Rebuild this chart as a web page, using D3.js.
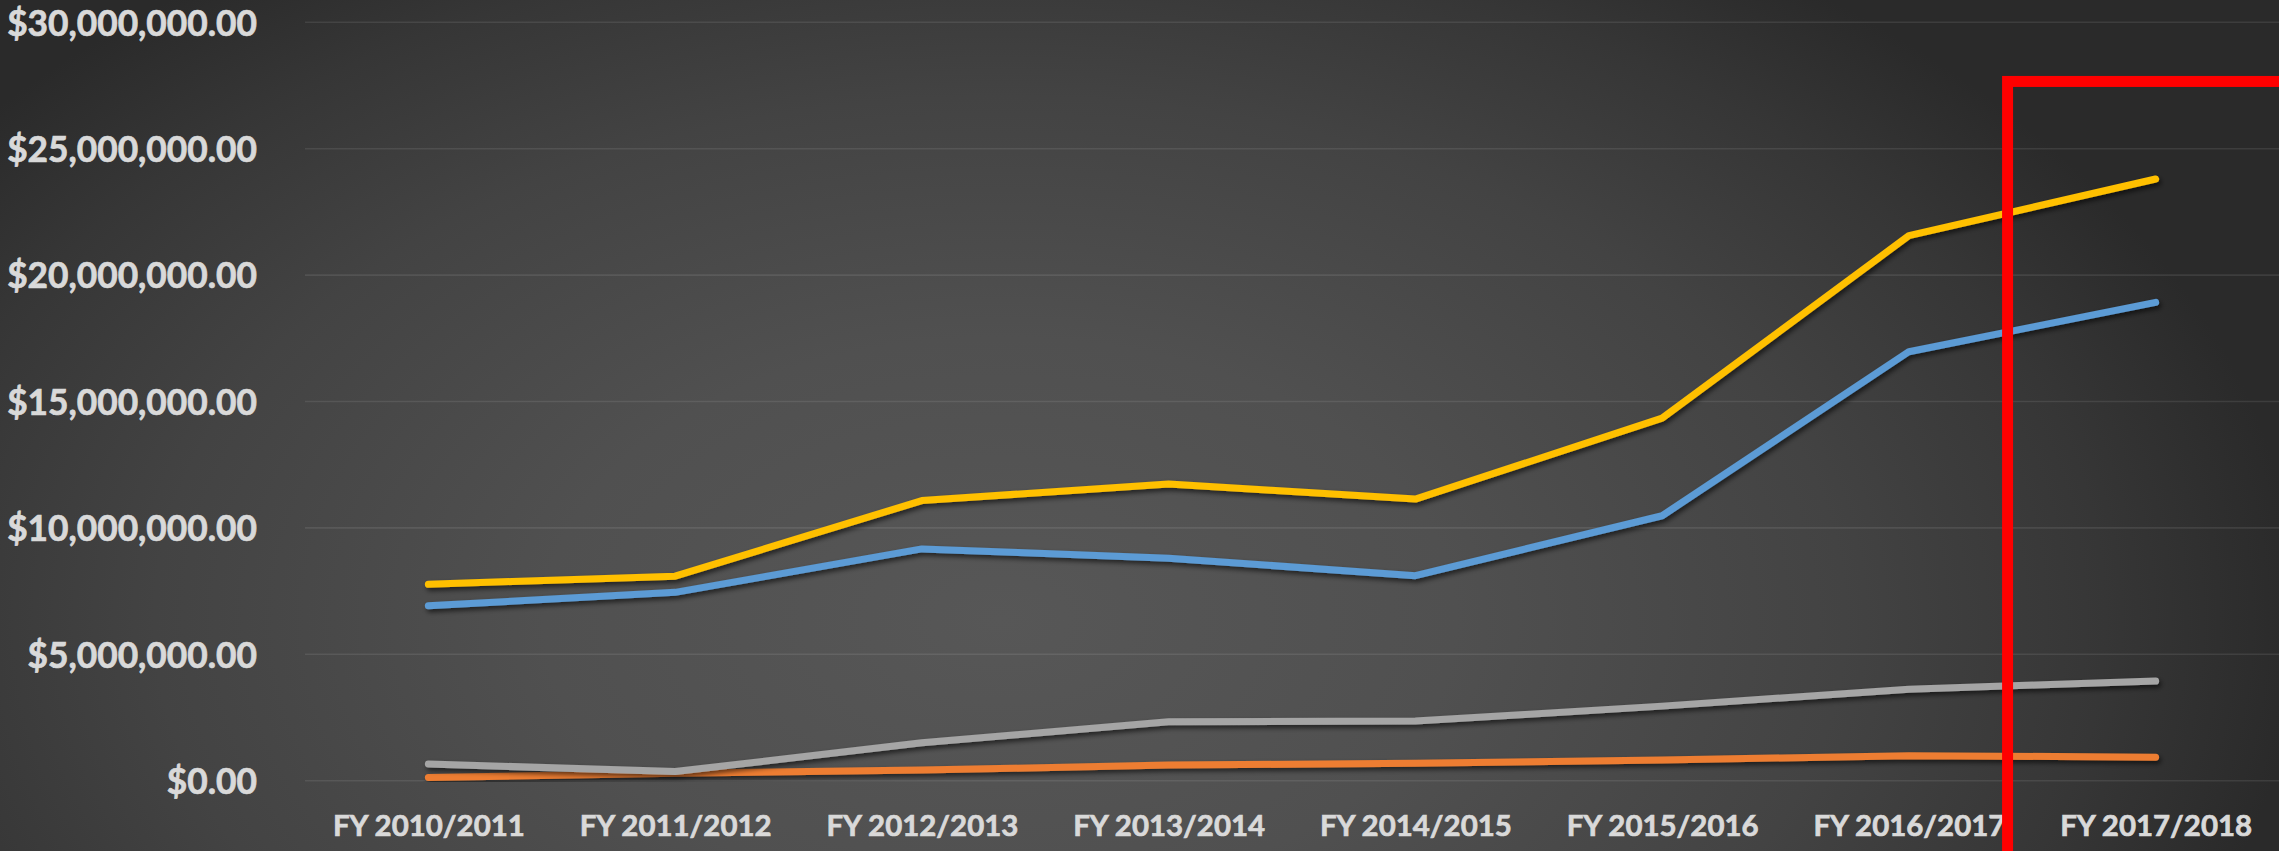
<!DOCTYPE html>
<html>
<head>
<meta charset="utf-8">
<script src="https://cdn.jsdelivr.net/npm/d3@7"></script>
<style>
  html, body { margin: 0; padding: 0; background: #2b2b2b; overflow: hidden; }
  svg { display: block; }
</style>
</head>
<body>
<svg id="chart" width="2279" height="851"></svg>
<script>
// ---- data ----
const categories = ["FY 2010/2011", "FY 2011/2012", "FY 2012/2013", "FY 2013/2014",
                    "FY 2014/2015", "FY 2015/2016", "FY 2016/2017", "FY 2017/2018"];
const seriesBlue   = [6920000, 7450000, 9170000, 8800000, 8110000, 10480000, 16970000, 18920000];
const seriesOrange = [130000, 290000, 420000, 620000, 690000, 820000, 990000, 930000];
const seriesGray   = [660000, 360000, 1500000, 2330000, 2360000, 2950000, 3620000, 3940000];
const seriesYellow = [7770000, 8090000, 11080000, 11740000, 11140000, 14340000, 21560000, 23800000];
const yTicks = [0, 5000000, 10000000, 15000000, 20000000, 25000000, 30000000];

const series = [
  { name: "Series 1", values: seriesBlue,   color: "#5B9BD5" },
  { name: "Series 2", values: seriesOrange, color: "#ED7D31" },
  { name: "Series 3", values: seriesGray,   color: "#A5A5A5" },
  { name: "Series 4", values: seriesYellow, color: "#FFC000" }
];

// ---- layout ----
const W = 2279, H = 851;
const plot = { left: 305, right: 2279, top: 22.3, bottom: 780.7 };
const svg = d3.select("#chart");
const defs = svg.append("defs");

// background gradient
const grad = defs.append("radialGradient")
  .attr("id", "bg")
  .attr("gradientUnits", "userSpaceOnUse")
  .attr("cx", 1000).attr("cy", 620).attr("r", 1300)
  .attr("fx", 1000).attr("fy", 620)
  .attr("gradientTransform", "translate(1000,620) scale(1,0.62) translate(-1000,-620)");
[[0, "#575757"], [0.35, "#505050"], [0.65, "#434343"], [0.85, "#363636"], [1, "#2a2a2a"]]
  .forEach(([o, c]) => grad.append("stop").attr("offset", o).attr("stop-color", c));

svg.append("rect").attr("width", W).attr("height", H).attr("fill", "url(#bg)");

// shadow filter
const f = defs.append("filter").attr("id", "shadow")
  .attr("x", "-5%").attr("y", "-20%").attr("width", "110%").attr("height", "140%");
f.append("feDropShadow").attr("dx", 2).attr("dy", 3).attr("stdDeviation", 2.5)
  .attr("flood-color", "#000").attr("flood-opacity", 0.6);

// scales
const x = d3.scalePoint().domain(categories).range([plot.left, plot.right]).padding(0.5);
const y = d3.scaleLinear().domain([0, 30000000]).range([plot.bottom, plot.top]);

const fmt = v => "$" + d3.format(",.2f")(v);
const font = "Lato, 'Open Sans', sans-serif";

// gridlines
svg.append("g").selectAll("line").data(yTicks).join("line")
  .attr("x1", plot.left).attr("x2", plot.right)
  .attr("y1", d => y(d)).attr("y2", d => y(d))
  .attr("stroke", "rgba(255,255,255,0.09)").attr("stroke-width", 1.6);

// y axis labels
const yAxis = d3.axisLeft(y).tickValues(yTicks).tickFormat(fmt).tickSize(0).tickPadding(0);
const gy = svg.append("g").attr("transform", "translate(257,0)").call(yAxis);
gy.select(".domain").remove();
gy.selectAll("text")
  .attr("font-family", font).attr("font-weight", 700).attr("font-size", 33)
  .attr("fill", "#D9D9D9").attr("stroke", "#D9D9D9").attr("stroke-width", 0.7)
  .attr("dy", "0.36em").attr("x", 0);

// fit y label size to measured target width
(function () {
  const t = gy.selectAll("text").filter(d => d === 30000000).node();
  const w = t.getComputedTextLength();
  gy.selectAll("text").attr("font-size", 33 * 250 / w);
})();

// x axis labels
const xAxis = d3.axisBottom(x).tickSize(0).tickPadding(0);
const gx = svg.append("g").attr("transform", "translate(0,836)").call(xAxis);
gx.select(".domain").remove();
gx.selectAll("text")
  .attr("font-family", font).attr("font-weight", 700).attr("font-size", 30)
  .attr("fill", "#D9D9D9").attr("stroke", "#D9D9D9").attr("stroke-width", 0.7)
  .attr("dy", 0).attr("y", 0);
(function () {
  const t = gx.selectAll("text").filter(d => d === "FY 2017/2018").node();
  const w = t.getComputedTextLength();
  gx.selectAll("text").attr("font-size", 30 * 192 / w);
})();

// lines
const line = d3.line().x((d, i) => x(categories[i])).y(d => y(d));
svg.append("g").selectAll("path").data(series).join("path")
  .attr("d", s => line(s.values))
  .attr("fill", "none")
  .attr("stroke", s => s.color)
  .attr("stroke-width", 7)
  .attr("stroke-linecap", "round")
  .attr("stroke-linejoin", "round")
  .attr("filter", "url(#shadow)");

// red highlight box around last category
const lastX = x(categories[categories.length - 1]);
const boxLeft = lastX - x.step() * 0.6;
svg.append("rect")
  .attr("x", boxLeft).attr("y", y(27660000))
  .attr("width", W - boxLeft + 50).attr("height", H)
  .attr("fill", "none").attr("stroke", "#FF0000").attr("stroke-width", 11);
</script>
</body>
</html>
